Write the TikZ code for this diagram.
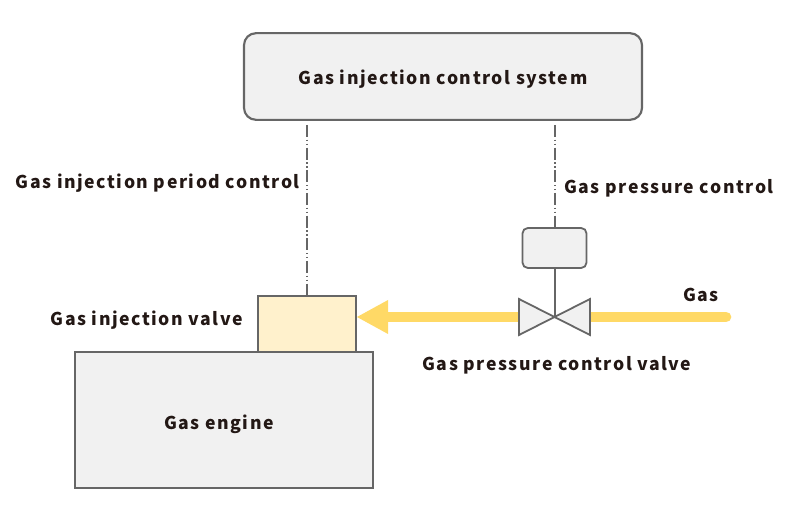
\documentclass[tikz,border=0pt]{standalone}
\usepackage{fontspec}
\setmainfont{Noto Sans CJK JP}[LetterSpace=8.8]
\usetikzlibrary{shapes.geometric}
\definecolor{edge}{HTML}{666666}
\definecolor{fillg}{HTML}{F1F1F1}
\definecolor{gasy}{HTML}{FFD966}
\definecolor{valvey}{HTML}{FFF1CC}
\definecolor{ink}{HTML}{231815}
\tikzset{
 x=0.75pt,y=-0.75pt,
 lbl/.style={font=\bfseries\fontsize{13.2}{15}\selectfont,text=ink,inner sep=0pt,anchor=center},
 boxg/.style={draw=edge,fill=fillg,line width=1.6pt,rounded corners=9pt,inner sep=0pt},
 plain/.style={draw=edge,line width=1.35pt,inner sep=0pt},
 ctrl/.style={draw=edge,line width=1.5pt,dash pattern=on 9pt off 2pt on 1pt off 2pt on 1pt off 2pt},
 stem/.style={draw=edge,line width=1.5pt},
 gasline/.style={draw=gasy,line width=8pt},
}
\begin{document}
\begin{tikzpicture}
\useasboundingbox (0,0) rectangle (800,520);
\node[boxg,minimum width=298.5pt,minimum height=65pt] (sys) at (443,76.5) {};
\node[lbl] at (443,79) {Gas injection control system};
\node[plain,fill=fillg,minimum width=223pt,minimum height=102pt] (eng) at (224,420) {};
\node[lbl] at (219,424) {Gas engine};
\node[plain,fill=valvey,minimum width=74pt,minimum height=42pt] (inj) at (307,324) {};
\node[lbl,anchor=east] at (243,320) {Gas injection valve};
\node[plain,fill=fillg,rounded corners=4pt,minimum width=48pt,minimum height=30pt] (act) at (554.5,248) {};
\coordinate (mid) at (554.5,317);
\coordinate (in) at (726,317);
\coordinate (tipstart) at (388,317);
\coordinate (sysL) at (307,125);
\coordinate (sysR) at (554.5,125);
% gas line
\draw[gasline,line cap=round] (in) -- (590,317);
\draw[gasline] (519,317) -- (tipstart);
\fill[gasy] (357,317) -- (388,300) -- (388,334) -- cycle;
% valve
\draw[plain,fill=fillg,line join=miter] (mid) -- (519,299) -- (519,335) -- cycle;
\draw[plain,fill=fillg,line join=miter] (mid) -- (590,299) -- (590,335) -- cycle;
\draw[stem] (act.south) -- (mid);
% control lines
\draw[ctrl] (sysL) -- (inj.north);
\draw[ctrl] (sysR) -- (act.north);
\node[lbl,anchor=east] at (300,183) {Gas injection period control};
\node[lbl,anchor=west] at (564,188) {Gas pressure control};
\node[lbl] at (701,295) {Gas};
\node[lbl] at (557,365) {Gas pressure control valve};
\end{tikzpicture}
\end{document}
